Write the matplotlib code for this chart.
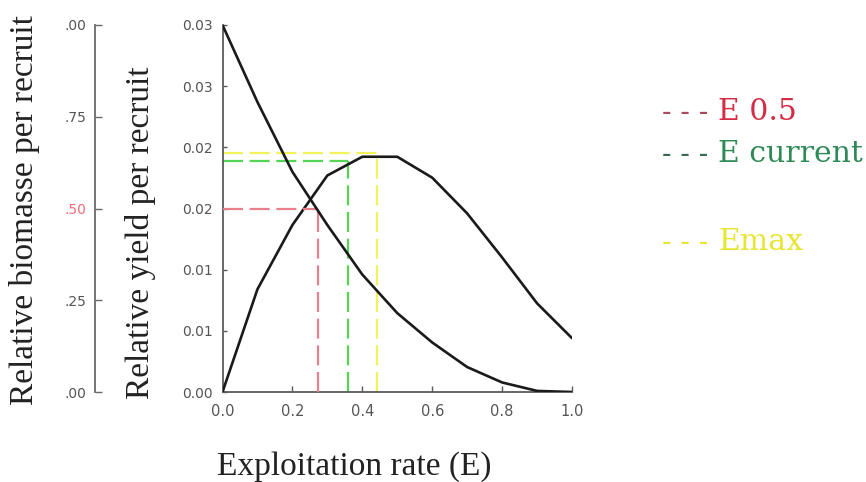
import matplotlib
matplotlib.use("Agg")
import matplotlib.pyplot as plt

# ---- data ----
E = [0.0, 0.1, 0.2, 0.3, 0.4, 0.5, 0.6, 0.7, 0.8, 0.9, 1.0]
biomass = [1.0, 0.79, 0.60, 0.455, 0.32, 0.215, 0.135, 0.068, 0.026, 0.003, 0.0]
yield_pr = [0.0, 0.0084, 0.01365, 0.0177, 0.01923, 0.01923, 0.01752, 0.0146, 0.011, 0.00725, 0.0044]

E_05 = 0.274
E_current = 0.36
E_max = 0.443
biomass_05_level = 0.5
yield_current_level = 0.0189
yield_max_level = 0.0195

yield_ticks = [0.0, 0.005, 0.01, 0.015, 0.02, 0.025, 0.03]
yield_ticklabels = ["0.00", "0.01", "0.01", "0.02", "0.02", "0.03", "0.03"]
biomass_ticks = [0.0, 0.25, 0.5, 0.75, 1.0]
biomass_ticklabels = [".00", ".25", ".50", ".75", ".00"]
x_ticks = [0.0, 0.2, 0.4, 0.6, 0.8, 1.0]
x_ticklabels = ["0.0", "0.2", "0.4", "0.6", "0.8", "1.0"]

legend_labels = ["E 0.5", "E current", "Emax"]
legend_colors = ["#d42c44", "#2e8b57", "#e6e632"]
legend_dash_colors = ["#a84a5c", "#3a6a50", "#e6e632"]

RED = "#e8808c"
GREEN = "#55d455"
YELLOW = "#f2f25a"
GREY = "#5a5a5a"

W, H = 866, 482
fig = plt.figure(figsize=(W / 100, H / 100), dpi=100)
fig.patch.set_facecolor("white")

left_px, right_px, top_px, bottom_px = 222.5, 572.0, 25.0, 392.0
ax = fig.add_axes([left_px / W, 1 - bottom_px / H, (right_px - left_px) / W, (bottom_px - top_px) / H])
ax.set_xlim(0, 1)
ax.set_ylim(0, 0.03)
ax.set_facecolor("none")

# yield curve
ax.plot(E, yield_pr, color="#1a1a1a", lw=1.9, zorder=3, solid_capstyle="round")

# E current (green) and Emax (yellow) reference lines
ax.plot([0, E_max], [yield_max_level, yield_max_level], color=YELLOW, lw=1.6, dashes=(9, 3), zorder=1)
ax.plot([E_max, E_max], [0, yield_max_level], color=YELLOW, lw=1.6, dashes=(9, 3), zorder=1)
ax.plot([0, E_current], [yield_current_level, yield_current_level], color=GREEN, lw=1.6, dashes=(9, 3), zorder=1)
ax.plot([E_current, E_current], [0, yield_current_level], color=GREEN, lw=1.6, dashes=(9, 3), zorder=1)

for s in ["top", "right"]:
    ax.spines[s].set_visible(False)
for s in ["left", "bottom"]:
    ax.spines[s].set_color(GREY)
    ax.spines[s].set_linewidth(1.3)

ax.set_yticks(yield_ticks)
ax.set_yticklabels(yield_ticklabels)
ax.set_xticks(x_ticks)
ax.set_xticklabels(x_ticklabels)
ax.tick_params(axis="y", direction="in", length=3, width=1, color=GREY, pad=7,
               labelsize=10, labelcolor="#555555")
ax.tick_params(axis="x", direction="in", length=4, width=1, color=GREY, pad=9,
               labelsize=10.5, labelcolor="#555555")

# biomass axis
ax2 = ax.twinx()
ax2.set_ylim(0, 1)
ax2.set_facecolor("none")
ax2.yaxis.tick_left()
ax2.yaxis.set_label_position("left")
ax2.spines["left"].set_visible(True)
ax2.spines["left"].set_position(("axes", (95 - left_px) / (right_px - left_px)))
ax2.spines["left"].set_color("#6a6a6a")
ax2.spines["left"].set_linewidth(1.3)
for s in ["top", "right", "bottom"]:
    ax2.spines[s].set_visible(False)
ax2.set_yticks(biomass_ticks)
ax2.set_yticklabels(biomass_ticklabels)
ax2.tick_params(axis="y", direction="in", length=5, width=1, color="#6a6a6a", pad=6,
                labelsize=10, labelcolor="#555555")
ax2.get_yticklabels()[2].set_color("#f06a7a")

ax2.plot([0, E_05], [biomass_05_level, biomass_05_level], color=RED, lw=1.6, dashes=(9, 3), zorder=1)
ax2.plot([E_05, E_05], [0, biomass_05_level], color=RED, lw=1.6, dashes=(9, 3), zorder=1)
ax2.plot(E, biomass, color="#1a1a1a", lw=1.9, zorder=3, solid_capstyle="round")

# axis labels
serif = ["Liberation Serif", "DejaVu Serif"]
fig.text(25 / W, 1 - 210 / H, "Relative biomasse per recruit", rotation=90,
         ha="center", va="center", fontsize=24, family=serif, color="#222222")
fig.text(141 / W, 1 - 233 / H, "Relative yield per recruit", rotation=90,
         ha="center", va="center", fontsize=24, family=serif, color="#222222")
fig.text(354 / W, 1 - 475 / H, "Exploitation rate (E)", ha="center", va="baseline",
         fontsize=24, family=serif, color="#222222")

# legend-like texts
legend_y = [112, 154, 242]
for lab, col, dcol, yy in zip(legend_labels, legend_colors, legend_dash_colors, legend_y):
    fig.text(662 / W, 1 - yy / H, "- - -", ha="left", va="center", fontsize=20,
             family=["DejaVu Serif"], color=dcol)
    fig.text(718 / W, 1 - yy / H, lab, ha="left", va="center", fontsize=21.5,
             family=["DejaVu Serif"], color=col)

fig.savefig("out.png", dpi=100, facecolor="white")
